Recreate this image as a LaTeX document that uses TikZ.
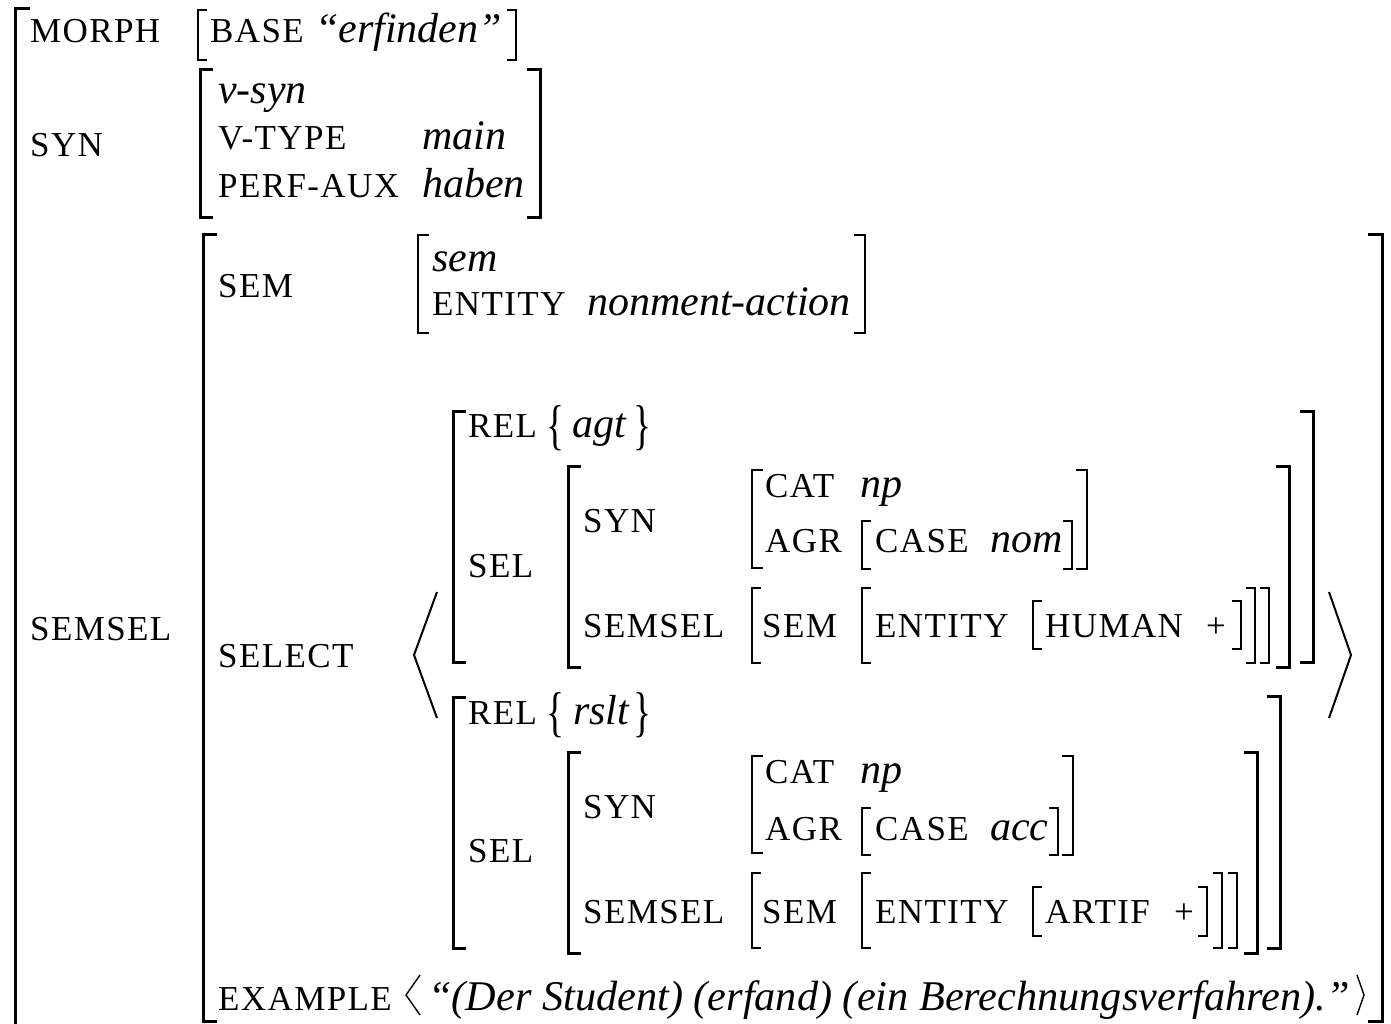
\documentclass[tikz,border=0pt]{standalone}
\usepackage{graphicx}
\usepackage{fontspec}
\setmainfont{Liberation Serif}
\newfontfamily\featfont[LetterSpace=4]{Liberation Serif}

% square brackets: [style]{x}{top}{bottom}{serif length}
\newcommand\avmL[5][]{\draw[brk,#1] (#2+#5,#3) -- (#2,#3) -- (#2,#4) -- (#2+#5,#4);}
\newcommand\avmR[5][]{\draw[brk,#1] (#2-#5,#3) -- (#2,#3) -- (#2,#4) -- (#2-#5,#4);}
% tall, narrow set braces
\newcommand\setL{\scalebox{0.72}[1.05]{\{}}
\newcommand\setR{\scalebox{0.72}[1.05]{\}}}

\begin{document}
\begin{tikzpicture}[x=1pt,y=-1pt,
  feat/.style={anchor=base west,inner sep=0pt,font=\featfont\fontsize{35}{40}\selectfont},
  val/.style={anchor=base west,inner sep=0pt,font=\itshape\fontsize{42}{48}\selectfont},
  brc/.style={anchor=base west,inner sep=0pt,font=\fontsize{52}{56}\selectfont},
  brk/.style={line width=3pt,line join=miter,line cap=butt},
  med/.style={line width=2pt},
  thin/.style={line width=1.4pt},
  angle/.style={line width=2pt,line join=miter}]
\useasboundingbox (0,0) rectangle (1391,1024);
\fill[white] (0,0) rectangle (1391,1024);

% outermost matrix
\avmL{15}{9}{1040}{15}

% MORPH
\node[feat] (morph) at (30,43) {MORPH};
\avmL[thin]{198}{10}{60}{9}
\node[feat] (base) at (210,43) {BASE};
\node[val] (erf) at (315,43) {“erfinden”};
\avmR[thin]{516}{10}{60}{9}

% SYN
\node[feat] (syn) at (30,157) {SYN};
\avmL{200}{70}{218}{13}
\node[val] (vsyn) at (218,104) {v-syn};
\node[feat] (vtype) at (218,150) {V-TYPE};
\node[val] (main) at (422,150) {main};
\node[feat] (perf) at (218,198) {PERF-AUX};
\node[val] (haben) at (422,198) {haben};
\avmR{540}{70}{218}{13}

% SEMSEL
\node[feat] (semsel) at (30,640) {SEMSEL};
\avmL{203}{235}{1021}{14}
\avmR{1382}{235}{1021}{14}

% SEM
\node[feat] (sem) at (218,297) {SEM};
\avmL[med]{418}{235}{333}{11}
\node[val] (semt) at (432,271) {sem};
\node[feat] (ent) at (432,315) {ENTITY};
\node[val] (nma) at (587,315) {nonment-action};
\avmR[med]{865}{235}{333}{11}

% SELECT
\node[feat] (select) at (218,667) {SELECT};
\draw[angle] (437,592) -- (414,655) -- (437,718);
\draw[angle] (1329,592) -- (1351,655) -- (1329,718);

% first list element
\avmL{453}{411}{662}{13}
\node[feat] (rel1) at (468,437) {REL};
\node[brc] (lb1) at (546,443) {\setL};
\node[val] (agt) at (572,437) {agt};
\node[brc] (rb1) at (633,443) {\setR};
\node[feat] (sel1) at (468,577) {SEL};
\avmL{568}{466}{667}{13}
\node[feat] (syn1) at (583,532) {SYN};
\avmL[med]{752}{470}{568}{11}
\node[feat] (cat1) at (765,497) {CAT};
\node[val] (np1) at (860,497) {np};
\node[feat] (agr1) at (765,552) {AGR};
\avmL[thin]{862}{521}{569}{9}
\node[feat] (case1) at (875,552) {CASE};
\node[val] (nom) at (990,552) {nom};
\avmR[thin]{1072}{521}{569}{9}
\avmR[med]{1087}{470}{569}{11}
\node[feat] (ss1) at (583,637) {SEMSEL};
\avmL[thin]{752}{588}{663}{9}
\node[feat] (sm1) at (762,637) {SEM};
\avmL[thin]{862}{588}{663}{9}
\node[feat] (en1) at (875,637) {ENTITY};
\avmL[thin]{1033}{601}{649}{9}
\node[feat] (hum) at (1045,637) {HUMAN};
\node[feat] (pl1) at (1206,637) {+};
\avmR[thin]{1241}{601}{649}{9}
\avmR[thin]{1255}{588}{663}{9}
\avmR[thin]{1269}{588}{663}{9}
\avmR{1289}{466}{667}{13}
\avmR{1313}{411}{662}{13}

% second list element
\avmL{453}{697}{948}{13}
\node[feat] (rel2) at (468,724) {REL};
\node[brc] (lb2) at (546,730) {\setL};
\node[val] (rslt) at (573,724) {rslt};
\node[brc] (rb2) at (633,730) {\setR};
\node[feat] (sel2) at (468,862) {SEL};
\avmL{568}{752}{953}{13}
\node[feat] (syn2) at (583,818) {SYN};
\avmL[med]{752}{756}{853}{11}
\node[feat] (cat2) at (765,783) {CAT};
\node[val] (np2) at (860,783) {np};
\node[feat] (agr2) at (765,840) {AGR};
\avmL[thin]{862}{808}{855}{9}
\node[feat] (case2) at (875,840) {CASE};
\node[val] (acc) at (990,840) {acc};
\avmR[thin]{1058}{808}{855}{9}
\avmR[med]{1073}{756}{855}{11}
\node[feat] (ss2) at (583,923) {SEMSEL};
\avmL[thin]{752}{873}{948}{9}
\node[feat] (sm2) at (762,923) {SEM};
\avmL[thin]{862}{873}{948}{9}
\node[feat] (en2) at (875,923) {ENTITY};
\avmL[thin]{1033}{887}{936}{9}
\node[feat] (artif) at (1045,923) {ARTIF};
\node[feat] (pl2) at (1174,923) {+};
\avmR[thin]{1207}{887}{936}{9}
\avmR[thin]{1222}{873}{948}{9}
\avmR[thin]{1237}{873}{948}{9}
\avmR{1257}{752}{953}{13}
\avmR{1280}{696}{948}{13}

% EXAMPLE
\node[feat] (ex) at (218,1010) {EXAMPLE};
\draw[thin,line join=miter] (420,975) -- (406,995) -- (420,1015);
\node[val,font=\itshape\fontsize{42.3}{48}\selectfont] (sent) at (428,1010) {“(Der Student) (erfand) (ein Berechnungsverfahren).”};
\draw[thin,line join=miter] (1357,975) -- (1364,995) -- (1357,1015);
\end{tikzpicture}
\end{document}
